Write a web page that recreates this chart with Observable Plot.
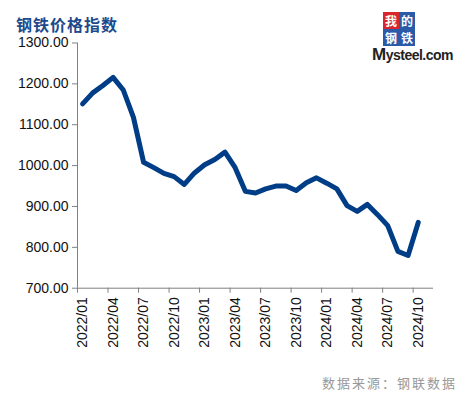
<!DOCTYPE html>
<html><head><meta charset="utf-8">
<script src="https://cdn.jsdelivr.net/npm/d3@7"></script>
<script src="https://cdn.jsdelivr.net/npm/@observablehq/plot@0.6"></script>
<style>
body{margin:0;background:#fff;}
#wrap{position:relative;width:463px;height:397px;overflow:hidden;}
#title{position:absolute;left:16px;top:12px;font:bold 16px "Noto Sans CJK SC",sans-serif;color:#1d4a8c;letter-spacing:1px;}
#caption{position:absolute;right:6px;top:373px;font:13px "Noto Sans CJK SC",sans-serif;color:#999;letter-spacing:2px;}
#logo{position:absolute;left:372px;top:11px;width:80px;}
.sq{position:absolute;width:16px;height:17px;overflow:hidden;color:#fff;font:bold 12px/17px "Noto Sans CJK SC",sans-serif;text-align:center;}
#ms{position:absolute;left:0;top:35px;font:bold 14px/18px "Liberation Sans",Arial,sans-serif;color:#222;letter-spacing:-0.5px;}
</style></head>
<body><div id="wrap">
<div id="title">钢铁价格指数</div>
<div id="logo">
<div class="sq" style="left:11px;top:1px;background:#d9262c">我</div>
<div class="sq" style="left:27px;top:1px;background:#2a5aa8">的</div>
<div class="sq" style="left:11px;top:18px;background:#2a5aa8">钢</div>
<div class="sq" style="left:27px;top:18px;background:#2a5aa8">铁</div>
<div id="ms"><span style="font-size:17px">M</span>ysteel.com</div>
</div>
<div id="caption">数据来源：钢联数据</div>
</div>
<script>
const months = ["2022/01","2022/02","2022/03","2022/04","2022/05","2022/06","2022/07","2022/08","2022/09","2022/10","2022/11","2022/12",
"2023/01","2023/02","2023/03","2023/04","2023/05","2023/06","2023/07","2023/08","2023/09","2023/10","2023/11","2023/12",
"2024/01","2024/02","2024/03","2024/04","2024/05","2024/06","2024/07","2024/08","2024/09","2024/10"];
const values = [1151,1178,1196,1216,1185,1118,1008,995,981,973,954,982,
1002,1015,1033,995,937,933,943,950,950,939,958,970,
957,943,902,888,905,880,853,790,780,861];
const yTicks = [700,800,900,1000,1100,1200,1300];

const data = months.map((m,i)=>({i, m, v: values[i]}));
const labelIdx = months.map((m,i)=>i).filter(i=>i%3===0);
const axisColor = "#808080";

const chart = Plot.plot({
  width: 463, height: 397,
  marginLeft: 77, marginRight: 30, marginTop: 42.5, marginBottom: 109.3,
  style: {fontFamily: "'Liberation Sans', Arial, sans-serif", fontSize: "14px", color: "#111", background: "transparent"},
  x: {domain: [-0.5, months.length + 0.5], axis: null},
  y: {domain: [700, 1300], axis: null},
  marks: [
    Plot.ruleY([700], {x1: -0.5, x2: months.length + 0.5, stroke: axisColor}),
    Plot.ruleX([-0.5], {y1: 700, y2: 1300, stroke: axisColor}),
    Plot.axisY({ticks: yTicks, tickSize: 5, tickPadding: 4, stroke: axisColor, tickFormat: d3.format(".2f"), fill: "#111", label: null}),
    Plot.axisX({ticks: labelIdx.map(i=>i-0.5), tickSize: 5, stroke: axisColor, text: null, label: null}),
    Plot.axisX({ticks: labelIdx, tickSize: 0, tickPadding: 9, tickRotate: -90, tickFormat: i => months[i], fill: "#111", label: null}),
    Plot.line(data, {x: "i", y: "v", stroke: "#003d87", strokeWidth: 5, strokeLinejoin: "round", strokeLinecap: "round"})
  ]
});
chart.style.position = "absolute";
chart.style.left = "0";
chart.style.top = "0";
document.getElementById("wrap").prepend(chart);
</script>
</body></html>
